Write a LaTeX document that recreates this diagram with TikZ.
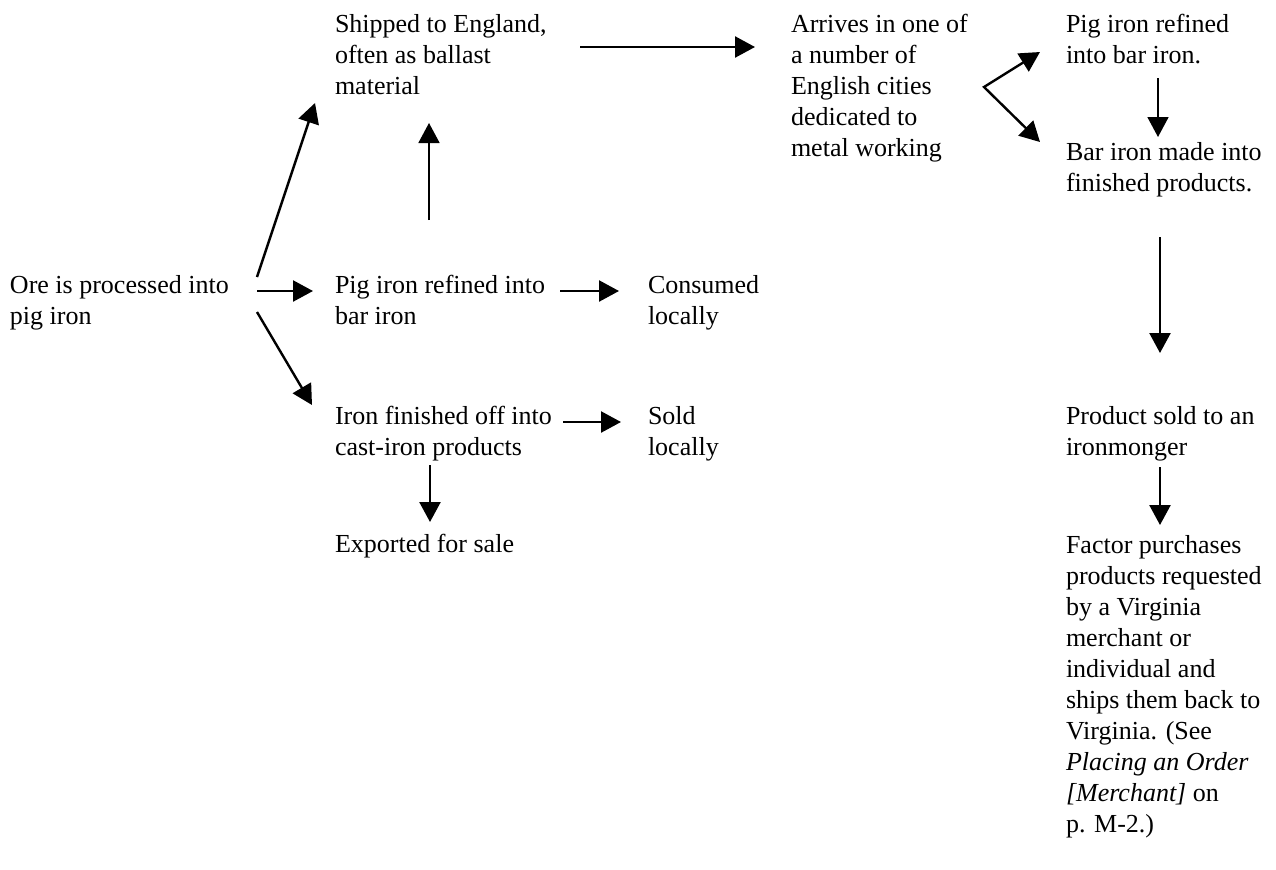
\documentclass[tikz,border=0pt]{standalone}
\usepackage{fontspec}
\setmainfont{Liberation Serif}
\usetikzlibrary{arrows.meta,calc}
\tikzset{
  lbl/.style={anchor=north west,inner sep=0pt,outer sep=0pt,align=left,
    font=\fontsize{13}{15.5}\selectfont},
  arr/.style={line width=1.2pt,-{Triangle[length=10pt,width=10.5pt]}},
  thinarr/.style={line width=0.85pt,-{Triangle[length=10pt,width=10.5pt]}},
  arrboth/.style={line width=1.2pt,{Triangle[length=10pt,width=10.5pt]}-{Triangle[length=10pt,width=10.5pt]},line join=miter},
}
\begin{document}
\begin{tikzpicture}[x=0.5pt,y=-0.5pt]
\useasboundingbox (0,0) rectangle (1276,869);
\node[lbl] (ore)  at (10,271.3)   {\strut Ore is processed into\\pig iron};
\node[lbl] (ship) at (335,10.3)   {\strut Shipped to England,\\often as ballast\\material};
\node[lbl] (pig)  at (335,271.3)  {\strut Pig iron refined into\\bar iron};
\node[lbl] (iron) at (335,402.3)  {\strut Iron finished off into\\cast-iron products};
\node[lbl] (exp)  at (335,530.3)  {\strut Exported for sale};
\node[lbl] (cons) at (648,271.3)  {\strut Consumed\\locally};
\node[lbl] (sold) at (648,402.3)  {\strut Sold\\locally};
\node[lbl] (arr)  at (791,10.3)   {\strut Arrives in one of\\a number of\\English cities\\dedicated to\\metal working};
\node[lbl] (pigr) at (1066,10.3)  {\strut Pig iron refined\\into bar iron.};
\node[lbl] (bar)  at (1066,138.3) {\strut Bar iron made into\\finished products.};
\node[lbl] (prod) at (1066,402.3) {\strut Product sold to an\\ironmonger};
\node[lbl] (fac)  at (1066,531.3) {\strut Factor purchases\\products requested\\by a Virginia\\merchant or\\individual and\\ships them back to\\Virginia. (See\\\textit{Placing an Order}\\\textit{[Merchant]} on\\p. M-2.)};
\coordinate (fork) at ($(arr.north west)+(193,76.7)$);
\draw[arr] ($(ore.north west)+(247,5.7)$) -- ($(ship.north west)+(-20,92.7)$);
\draw[arr] ($(ore.north west)+(247,19.7)$) -- ($(pig.north west)+(-22,19.7)$);
\draw[arr] ($(ore.north west)+(247,40.7)$) -- ($(iron.north west)+(-23,2.7)$);
\draw[thinarr] ($(pig.north west)+(94,-51.3)$) -- ($(ship.north west)+(94,112.7)$);
\draw[arr] ($(pig.north west)+(225,19.7)$) -- ($(cons.north west)+(-29,19.7)$);
\draw[arr] ($(iron.north west)+(228,19.7)$) -- ($(sold.north west)+(-27,19.7)$);
\draw[arr] ($(iron.north west)+(95,62.7)$) -- ($(exp.north west)+(95,-8.3)$);
\draw[arr] ($(ship.north west)+(245,36.7)$) -- ($(arr.north west)+(-36,36.7)$);
\draw[arrboth] ($(pigr.north west)+(-26,41.7)$) -- (fork) -- ($(bar.north west)+(-26,3.7)$);
\draw[thinarr] ($(pigr.north west)+(92,67.7)$) -- ($(bar.north west)+(92,-1.3)$);
\draw[arr] ($(bar.north west)+(94,98.7)$) -- ($(prod.north west)+(94,-49.3)$);
\draw[arr] ($(prod.north west)+(94,64.7)$) -- ($(fac.north west)+(94,-6.3)$);
\end{tikzpicture}
\end{document}
